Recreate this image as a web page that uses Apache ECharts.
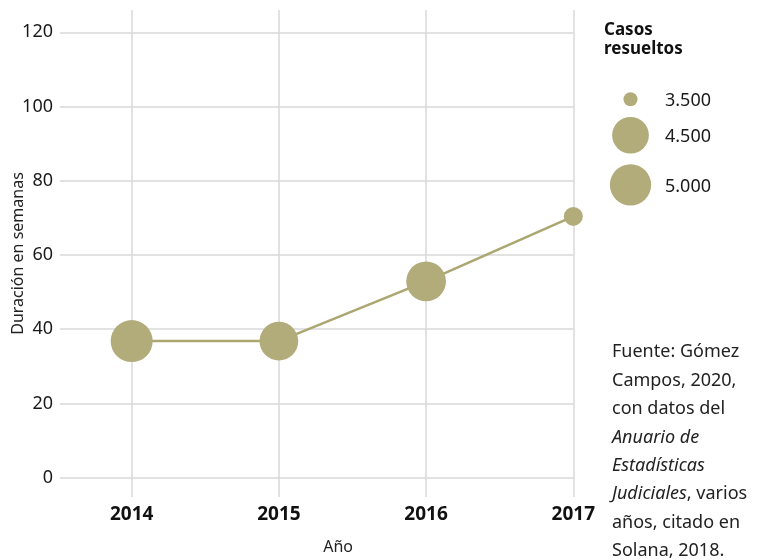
<!DOCTYPE html>
<html>
<head>
<meta charset="utf-8">
<script src="https://cdn.jsdelivr.net/npm/echarts@6/dist/echarts.min.js"></script>
<style>html,body{margin:0;padding:0;background:#fff;}#c{width:757px;height:560px;}</style>
</head>
<body>
<div id="c"></div>
<script>
// Data
const years = [2014, 2015, 2016, 2017];
const durationWeeks = [36.8, 36.8, 52.9, 70.4];
const casesResolved = [5080, 4720, 4830, 3720];
const yTicks = [0, 20, 40, 60, 80, 100, 120];
const legendCases = [3500, 4500, 5000];

// size mapping (cases -> symbol diameter)
const sizeAnchors = [[3500, 14], [4500, 36.7], [5000, 41.3]];
function sizeOf(v) {
  const a = sizeAnchors;
  let i = 0;
  if (v <= a[0][0]) i = 0; else if (v >= a[a.length - 1][0]) i = a.length - 2;
  else { while (v > a[i + 1][0]) i++; }
  const [x0, y0] = a[i], [x1, y1] = a[i + 1];
  return y0 + (v - x0) * (y1 - y0) / (x1 - x0);
}
function fmtEs(v) { return String(v).replace(/\B(?=(\d{3})+(?!\d))/g, '.'); }

const COLOR = '#b2ac7b';
const FONT = '"Noto Sans", sans-serif';

const chart = echarts.init(document.getElementById('c'), null, {renderer: 'canvas'});

// legend graphics
const legendEls = [];
let cy = 99.3;
legendCases.forEach((v, i) => {
  const d = sizeOf(v);
  if (i > 0) cy += sizeOf(legendCases[i - 1]) / 2 + d / 2 + 10.6;
  legendEls.push({
    type: 'circle', shape: {cx: 630.5, cy: cy, r: d / 2},
    style: {fill: COLOR}
  });
  legendEls.push({
    type: 'text', x: 665, y: cy + 2,
    style: {text: fmtEs(v), fill: '#1a1a1a', font: '18px ' + FONT, verticalAlign: 'middle', align: 'left'}
  });
});

const option = {
  animation: false,
  grid: {left: 60, right: 183.7, top: 10, bottom: 63, containLabel: false, outerBoundsMode: 'none'},
  xAxis: {
    type: 'value', min: 2013.513, max: 2017,
    name: 'Año', nameLocation: 'middle', nameGap: 42, nameMoveOverlap: false,
    nameTextStyle: {fontFamily: FONT, fontSize: 16, color: '#222', padding: [0, 0, 0, 43]},
    axisLine: {show: false}, axisTick: {show: false, customValues: years},
    axisLabel: {customValues: years, formatter: v => String(v), fontFamily: FONT, fontSize: 19, fontWeight: 'bold', color: '#111', margin: 8},
    splitLine: {show: true, lineStyle: {color: '#d9d9d9', width: 1.5}}
  },
  yAxis: {
    type: 'value', min: -5.2, max: 126,
    name: 'Duración en semanas', nameLocation: 'middle', nameGap: 34, nameMoveOverlap: false,
    nameTextStyle: {fontFamily: FONT, fontSize: 16, color: '#222'},
    axisLine: {show: false}, axisTick: {show: false, customValues: yTicks},
    axisLabel: {customValues: yTicks, fontFamily: FONT, fontSize: 18, color: '#1a1a1a', margin: 7},
    splitLine: {show: true, lineStyle: {color: '#d9d9d9', width: 1.5}}
  },
  series: [{
    type: 'line',
    data: years.map((y, i) => [y, durationWeeks[i]]),
    symbol: 'circle',
    symbolSize: (val, p) => sizeOf(casesResolved[p.dataIndex]),
    itemStyle: {color: COLOR, opacity: 1},
    lineStyle: {color: '#aca671', width: 2.5},
    clip: false,
    z: 3
  }],
  graphic: [
    {
      type: 'text', x: 604, y: 21,
      style: {text: 'Casos\nresueltos', fill: '#111', font: 'bold 17px ' + FONT, lineHeight: 19}
    },
    ...legendEls,
    {
      type: 'text', x: 612, y: 338,
      style: {
        text: 'Fuente: Gómez\nCampos, 2020,\ncon datos del\n{i|Anuario de}\n{i|Estadísticas}\n{i|Judiciales}, varios\naños, citado en\nSolana, 2018.',
        fill: '#222', font: '18px ' + FONT, lineHeight: 28.4,
        rich: {i: {fontStyle: 'italic', fontFamily: FONT, fontSize: 18, lineHeight: 28.4, fill: '#222'}}
      }
    }
  ]
};
chart.setOption(option);
</script>
</body>
</html>
